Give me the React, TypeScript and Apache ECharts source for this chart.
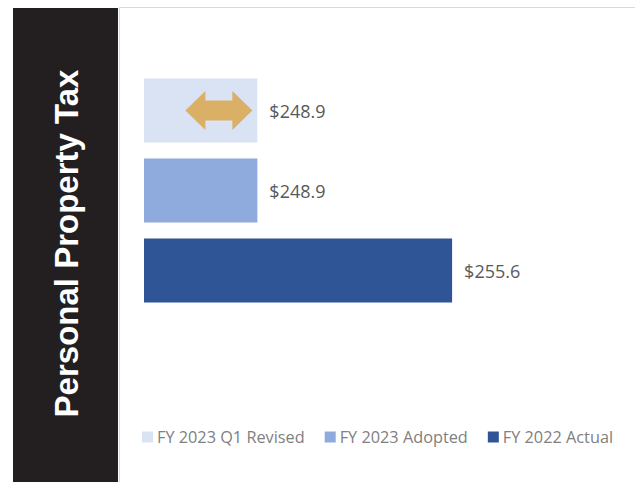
import React, { useEffect, useRef } from "react";
import * as echarts from "echarts";

const categories = ["FY 2023 Q1 Revised", "FY 2023 Adopted", "FY 2022 Actual"];
const revisedValues = [248.9, null, null];
const adoptedValues = [null, 248.9, null];
const actualValues = [null, null, 255.6];
const seriesColors = ["#dae3f3", "#8faadc", "#2f5597"];
const sideTitle = "Personal Property Tax";

export default function App() {
  const ref = useRef<HTMLDivElement>(null);
  useEffect(() => {
    if (!ref.current) return;
    const chart = echarts.init(ref.current, null, { renderer: "svg" });
    const mk = (name: string, data: (number | null)[], color: string) => ({
      name,
      type: "bar",
      stack: "all",
      data,
      barCategoryGap: "20%",
      itemStyle: { color },
      label: {
        show: true,
        position: "right",
        distance: 12,
        color: "#595959",
        fontSize: 18,
        fontFamily: "Open Sans",
        formatter: (p: any) => "$" + Number(p.value).toFixed(1),
      },
    });
    chart.setOption({
      animation: false,
      grid: { left: 144, right: 55, top: 70.5, height: 240 },
      xAxis: { type: "value", min: 245, max: 260, show: false },
      yAxis: { type: "category", data: categories, inverse: true, show: false },
      legend: {
        data: categories,
        left: 142,
        top: 429,
        padding: 0,
        itemWidth: 11,
        itemHeight: 11,
        itemGap: 20,
        icon: "rect",
        textStyle: { color: "#808080", fontSize: 16.3, fontFamily: "Open Sans", padding: [0, 0, 0, -1] },
      },
      series: [
        mk(categories[0], revisedValues, seriesColors[0]),
        mk(categories[1], adoptedValues, seriesColors[1]),
        mk(categories[2], actualValues, seriesColors[2]),
      ],
    });
    const p = chart.convertToPixel({ gridIndex: 0 }, [revisedValues[0] as number, categories[0]]) as number[];
    const R = p[0] - 5;
    const L = p[0] - 72;
    const yc = p[1];
    const h = 19.5;
    const s = 10;
    const hl = 20;
    chart.setOption({
      graphic: [
        {
          type: "rect",
          z: 0,
          shape: { x: 119.5, y: 7.5, width: 530, height: 490 },
          style: { fill: "none", stroke: "#d9d9d9", lineWidth: 1 },
          silent: true,
        },
        {
          type: "rect",
          z: 1,
          shape: { x: 13, y: 8, width: 105, height: 474 },
          style: { fill: "#231f20" },
          silent: true,
        },
        {
          type: "text",
          z: 2,
          x: 66,
          y: 243.5,
          rotation: Math.PI / 2,
          style: {
            text: sideTitle,
            fill: "#ffffff",
            font: "bold 33px 'Liberation Sans', Arial, sans-serif",
            align: "center",
            verticalAlign: "middle",
          },
          silent: true,
        },
        {
          type: "polygon",
          z: 100,
          shape: {
            points: [
              [L, yc],
              [L + hl, yc - h],
              [L + hl, yc - s],
              [R - hl, yc - s],
              [R - hl, yc - h],
              [R, yc],
              [R - hl, yc + h],
              [R - hl, yc + s],
              [L + hl, yc + s],
              [L + hl, yc + h],
            ],
          },
          style: { fill: "#d9b065" },
          silent: true,
        },
      ],
    });
    return () => chart.dispose();
  }, []);
  return <div ref={ref} style={{ position: "fixed", left: 0, top: 0, width: 635, height: 482, background: "#fff" }} />;
}
